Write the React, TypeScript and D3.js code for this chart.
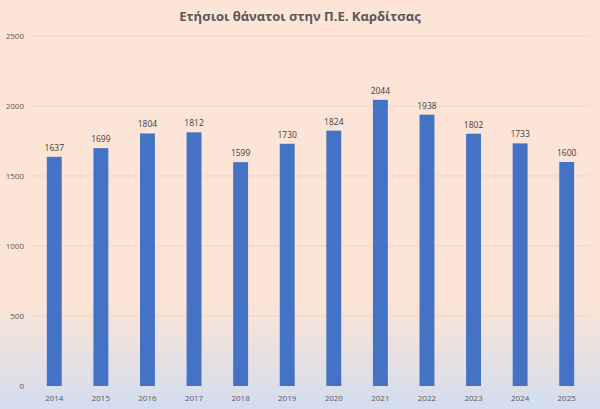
import React from 'react';
import * as d3 from 'd3';

const years = ['2014', '2015', '2016', '2017', '2018', '2019', '2020', '2021', '2022', '2023', '2024', '2025'];
const deaths = [1637, 1699, 1804, 1812, 1599, 1730, 1824, 2044, 1938, 1802, 1733, 1600];
const yTicks = [0, 500, 1000, 1500, 2000, 2500];
const title = 'Ετήσιοι θάνατοι στην Π.Ε. Καρδίτσας';

const width = 600;
const height = 409;
const margin = { top: 36, right: 10, bottom: 23, left: 31 };
const font = "'Open Sans', 'Liberation Sans', sans-serif";

const App: React.FC = () => {
  const x = d3
    .scaleBand<string>()
    .domain(years)
    .range([margin.left, width - margin.right])
    .paddingInner(0.68)
    .paddingOuter(0.34);

  const y = d3
    .scaleLinear()
    .domain([0, 2500])
    .range([height - margin.bottom, margin.top]);

  return (
    <svg
      width={width}
      height={height}
      style={{ position: 'absolute', left: 0, top: 0 }}
      fontFamily={font}
    >
      <defs>
        <linearGradient id="bg" x1="0" y1="0" x2="0" y2="1">
          <stop offset="0" stopColor="#fce4d6" />
          <stop offset="0.74" stopColor="#fce4d6" />
          <stop offset="1" stopColor="#d2ddef" />
        </linearGradient>
      </defs>
      <rect width={width} height={height} fill="url(#bg)" />

      <text x={width / 2} y={21} textAnchor="middle" fontSize={13} fontWeight="bold" fill="#595959">
        {title}
      </text>

      {/* gridlines + y labels */}
      {yTicks.map((t) => (
        <g key={t}>
          {t > 0 && (
            <line x1={margin.left + 1} x2={width - margin.right} y1={y(t)} y2={y(t)} stroke="#ecd7ca" strokeWidth={1} />
          )}
          <text x={24} y={y(t)} dy="0.35em" textAnchor="end" fontSize={8} fill="#595959">
            {t}
          </text>
        </g>
      ))}

      {/* bars */}
      {deaths.map((d, i) => (
        <rect
          key={years[i]}
          x={x(years[i])}
          y={y(d)}
          width={x.bandwidth()}
          height={y(0) - y(d)}
          fill="#4472c4"
        />
      ))}

      {/* data labels */}
      {deaths.map((d, i) => (
        <text
          key={'l' + years[i]}
          x={(x(years[i]) ?? 0) + x.bandwidth() / 2}
          y={y(d) - 6}
          textAnchor="middle"
          fontSize={8.5}
          fill="#404040"
        >
          {d}
        </text>
      ))}

      {/* x labels */}
      {years.map((yr) => (
        <text
          key={'x' + yr}
          x={(x(yr) ?? 0) + x.bandwidth() / 2}
          y={height - margin.bottom + 15}
          textAnchor="middle"
          fontSize={8}
          fill="#595959"
        >
          {yr}
        </text>
      ))}
    </svg>
  );
};

export default App;
